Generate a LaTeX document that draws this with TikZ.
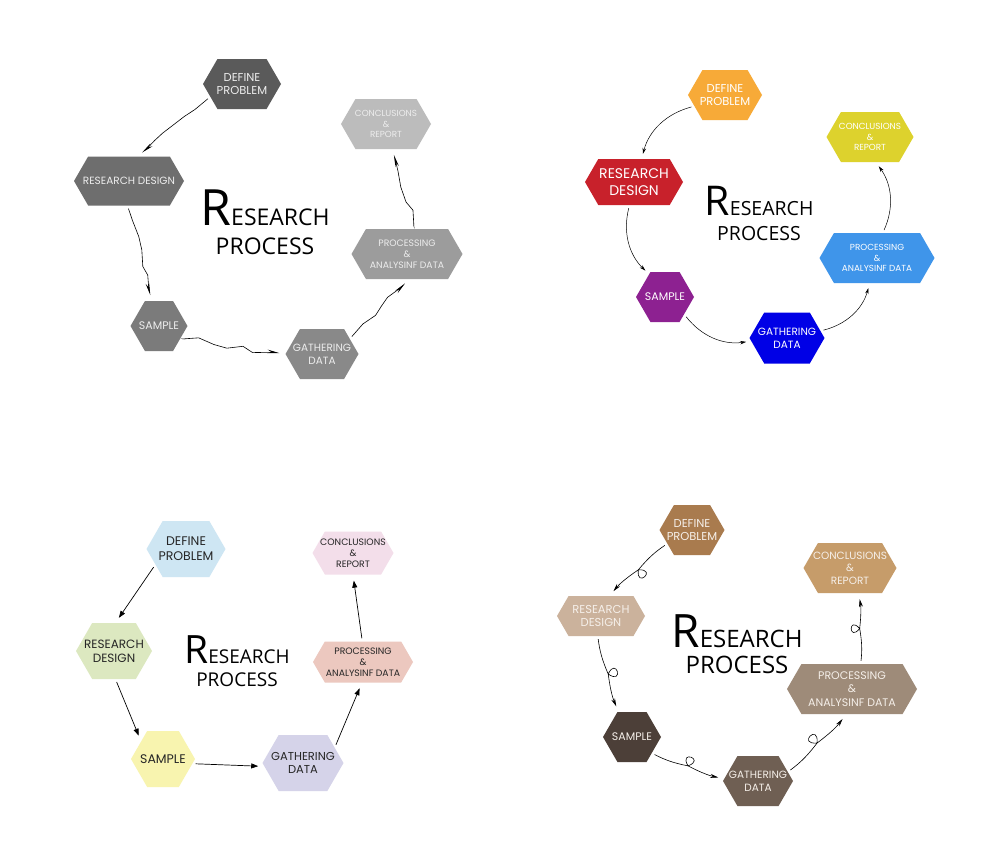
\documentclass[tikz,border=0pt]{standalone}
\usepackage{fontspec}
\setmainfont{Poppins}
\newfontfamily\headfont{Open Sans}
\usetikzlibrary{arrows.meta,calc,shapes.symbols,decorations.pathmorphing}

\newcommand\fz[1]{\fontsize{#1}{\fpeval{1.2*#1}}\selectfont}
\newcommand\bigR[1]{{\fontsize{#1}{#1}\selectfont R}}
% connector with a small loop half way
\newcommand\curl[2]{\draw[curly] (#1) to[bend right=8] ($(#1)!0.5!(#2)$) coordinate (m)
  .. controls ($(m)!0.5!40:(#2)$) and ($(m)!0.5!140:(#2)$) .. (m) to[bend right=8] (#2);}

\definecolor{greyA}{HTML}{5A5A5A}
\definecolor{greyB}{HTML}{6E6E6E}
\definecolor{greyC}{HTML}{7B7B7B}
\definecolor{greyD}{HTML}{898989}
\definecolor{greyE}{HTML}{9C9C9C}
\definecolor{greyF}{HTML}{BCBCBC}
\definecolor{greyT}{HTML}{EDEDED}
\definecolor{vivA}{HTML}{F7AA38}
\definecolor{vivB}{HTML}{C8212B}
\definecolor{vivC}{HTML}{8D2191}
\definecolor{vivD}{HTML}{0000E6}
\definecolor{vivE}{HTML}{3F95EA}
\definecolor{vivF}{HTML}{DDD22D}
\definecolor{palA}{HTML}{CEE6F3}
\definecolor{palB}{HTML}{DCE8C0}
\definecolor{palC}{HTML}{F8F4AF}
\definecolor{palD}{HTML}{D5D3E9}
\definecolor{palE}{HTML}{ECC8BF}
\definecolor{palF}{HTML}{F3DEEA}
\definecolor{palT}{HTML}{262626}
\definecolor{brnA}{HTML}{A97B4E}
\definecolor{brnB}{HTML}{CBB29C}
\definecolor{brnC}{HTML}{4C3F38}
\definecolor{brnD}{HTML}{6F5F53}
\definecolor{brnE}{HTML}{9E8B79}
\definecolor{brnF}{HTML}{C69C6A}
\definecolor{brnT}{HTML}{F5EFE9}

\tikzset{
  hex/.style={signal, signal to=east and west, signal pointer angle=120, inner xsep=-10pt, inner ysep=0pt, minimum height=50, align=center},
  heading/.style={align=center, inner sep=0pt, text=black},
  zig/.style={-{Stealth[length=12pt,width=3.5pt]}, line width=0.6pt, shorten <=4pt, shorten >=6pt, decorate, decoration={random steps, segment length=14pt, amplitude=4pt, pre length=3pt, post length=12pt}},
  bendy/.style={-{Stealth[length=6pt,width=3.5pt]}, line width=0.5pt, shorten <=3pt, shorten >=5pt, bend right=30},
  straight/.style={-{Triangle[length=7pt,width=5pt]}, line width=0.7pt, shorten <=3pt, shorten >=6pt},
  curly/.style={-{Stealth[length=8pt,width=4pt]}, line width=0.6pt, shorten <=3pt, shorten >=6pt}
}

\begin{document}
\begin{tikzpicture}[x=1pt, y=1pt]
\useasboundingbox (0,0) rectangle (1000,-857);
\fill[white] (0,0) rectangle (1000,-857);
\pgfmathsetseed{11}

% grey cycle
\node[hex, fill=greyA, text=greyT, minimum width=78, font=\fz{11.5}] (d1) at (242,-84) {DEFINE\\PROBLEM};
\node[hex, fill=greyB, text=greyT, minimum width=110, minimum height=49, font=\fz{10.5}] (r1) at (129,-181) {RESEARCH DESIGN};
\node[hex, fill=greyC, text=greyT, minimum width=57, font=\fz{11}] (s1) at (159,-326) {SAMPLE};
\node[hex, fill=greyD, text=greyT, minimum width=73, font=\fz{10.5}] (g1) at (322,-354) {GATHERING\\DATA};
\node[hex, fill=greyE, text=greyT, minimum width=111, font=\fz{9.3}] (p1) at (407,-254) {PROCESSING\\\&\\ANALYSINF DATA};
\node[hex, fill=greyF, text=greyT, minimum width=90, font=\fz{8.8}] (c1) at (386,-124) {CONCLUSIONS\\\&\\REPORT};
\node[heading, font=\headfont\fontsize{23}{29}\selectfont] (t1) at (265,-222) {\bigR{50}ESEARCH\\PROCESS};
\draw[zig] (d1.202) -- (r1.71);
\draw[zig] (r1.267) -- (s1.106);
\draw[zig] (s1.330) -- (g1.180);
\draw[zig] (g1.29) -- (p1.275);
\draw[zig] (p1.73) -- (c1.284);

% coloured cycle
\node[hex, fill=vivA, text=white, minimum width=74, font=\fz{11.5}] (d2) at (725,-95) {DEFINE\\PROBLEM};
\node[hex, fill=vivB, text=white, minimum width=98, minimum height=46, font=\fz{14}] (r2) at (634,-182) {RESEARCH\\DESIGN};
\node[hex, fill=vivC, text=white, minimum width=58, font=\fz{11}] (s2) at (665,-297) {SAMPLE};
\node[hex, fill=vivD, text=white, minimum width=75, minimum height=51, font=\fz{10.5}] (g2) at (787,-338) {GATHERING\\DATA};
\node[hex, fill=vivE, text=white, minimum width=115, font=\fz{8.8}] (p2) at (877,-258) {PROCESSING\\\&\\ANALYSINF DATA};
\node[hex, fill=vivF, text=white, minimum width=87, font=\fz{8.8}] (c2) at (870,-137) {CONCLUSIONS\\\&\\REPORT};
\node[heading, font=\headfont\fontsize{19.5}{25}\selectfont] (t2) at (759,-213) {\bigR{41}ESEARCH\\PROCESS};
\draw[bendy] (d2.200) to (r2.72);
\draw[bendy] (r2.259) to (s2.125);
\draw[bendy] (s2.318) to (g2.185);
\draw[bendy] (g2.12) to (p2.254);
\draw[bendy] (p2.77) to (c2.283);

% pastel cycle
\node[hex, fill=palA, text=palT, minimum width=79, minimum height=56, font=\fz{12.5}] (d3) at (186,-549) {DEFINE\\PROBLEM};
\node[hex, fill=palB, text=palT, minimum width=76, minimum height=56, font=\fz{12}] (r3) at (114,-651) {RESEARCH\\DESIGN};
\node[hex, fill=palC, text=palT, minimum width=64, minimum height=56, font=\fz{12.5}] (s3) at (163,-759) {SAMPLE};
\node[hex, fill=palD, text=palT, minimum width=81, minimum height=56, font=\fz{11.5}] (g3) at (303,-763) {GATHERING\\DATA};
\node[hex, fill=palE, text=palT, minimum width=100, minimum height=41, font=\fz{9.3}] (p3) at (363,-662) {PROCESSING\\\&\\ANALYSINF DATA};
\node[hex, fill=palF, text=palT, minimum width=81, minimum height=43, font=\fz{9.3}] (c3) at (353,-553) {CONCLUSIONS\\\&\\REPORT};
\node[heading, font=\headfont\fontsize{19}{23}\selectfont] (t3) at (237,-661) {\bigR{39}ESEARCH\\PROCESS};
\draw[straight] (d3.207) -- (r3.87);
\draw[straight] (r3.273) -- (s3.141);
\draw[straight] (s3.351) -- (g3.185);
\draw[straight] (g3.26) -- (p3.267);
\draw[straight] (p3.92) -- (c3.270);

% brown cycle
\node[hex, fill=brnA, text=brnT, minimum width=65, font=\fz{11.5}] (d4) at (692,-530) {DEFINE\\PROBLEM};
\node[hex, fill=brnB, text=brnT, minimum width=88, minimum height=40, font=\fz{11.5}] (r4) at (601,-616) {RESEARCH\\DESIGN};
\node[hex, fill=brnC, text=brnT, minimum width=58, font=\fz{11}] (s4) at (632,-737) {SAMPLE};
\node[hex, fill=brnD, text=brnT, minimum width=70, font=\fz{10.5}] (g4) at (758,-781) {GATHERING\\DATA};
\node[hex, fill=brnE, text=brnT, minimum width=130, font=\fz{11}] (p4) at (852,-689) {PROCESSING\\\&\\ANALYSINF DATA};
\node[hex, fill=brnF, text=brnT, minimum width=93, font=\fz{10.5}] (c4) at (850,-568) {CONCLUSIONS\\\&\\REPORT};
\node[heading, font=\headfont\fontsize{24}{26}\selectfont] (t4) at (737,-644) {\bigR{46}ESEARCH\\PROCESS};
\curl{d4.209}{r4.67}
\curl{r4.261}{s4.118}
\curl{s4.321}{g4.176}
\curl{g4.17}{p4.257}
\curl{p4.71}{c4.289}
\end{tikzpicture}
\end{document}
